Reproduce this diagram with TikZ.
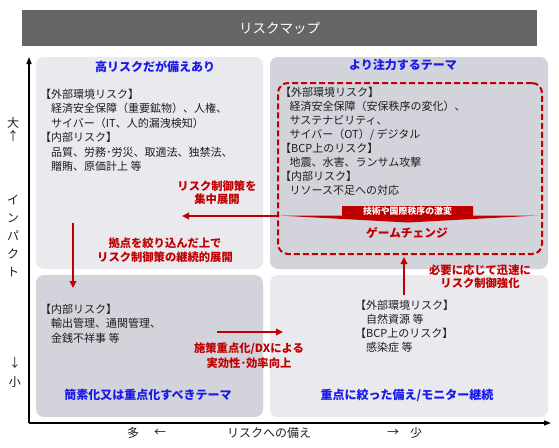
\documentclass[tikz,border=0pt]{standalone}
\usepackage{fontspec}
\setmainfont{Noto Sans CJK JP}
\usetikzlibrary{arrows.meta}
\definecolor{qlight}{RGB}{233,233,238}
\definecolor{qdark}{RGB}{211,211,219}
\definecolor{titlegray}{RGB}{102,102,102}
\definecolor{hblue}{RGB}{25,25,235}
\definecolor{dred}{RGB}{192,0,0}
\definecolor{txt}{RGB}{30,30,30}
\begin{document}
\begin{tikzpicture}[x=1pt,y=-1pt,
  quad/.style={rounded corners=8pt, draw=none, inner sep=0pt},
  body/.style={anchor=base west, inner sep=0pt, text=txt, font=\fontsize{11}{12}\selectfont},
  head/.style={anchor=base, inner sep=0pt, text=hblue, font=\bfseries\fontsize{12}{14}\selectfont},
  redt/.style={anchor=base, inner sep=0pt, text=dred, font=\bfseries\fontsize{11.3}{13}\selectfont},
  axl/.style={inner sep=0pt, text=txt, font=\fontsize{12}{14}\selectfont},
  redarrow/.style={draw=dred, line width=2pt, -{Triangle[length=7pt,width=6.5pt]}},
  axisline/.style={draw=black, line width=1.3pt, -{Triangle[length=7pt,width=5pt]}},
]
\useasboundingbox (0,0) rectangle (559,447);
\fill[white] (0,0) rectangle (559,447);

% title
\node[fill=titlegray, minimum width=515pt, minimum height=36pt, inner sep=0pt,
      text=white, font=\fontsize{13.5}{15}\selectfont] (title) at (279.5,28) {リスクマップ};

% quadrants
\node[quad, fill=qlight, minimum width=227pt, minimum height=212pt] (tl) at (149.5,163) {};
\node[quad, fill=qdark,  minimum width=278pt, minimum height=212pt] (tr) at (409,163) {};
\node[quad, fill=qdark,  minimum width=227pt, minimum height=142pt] (bl) at (149.5,346) {};
\node[quad, fill=qlight, minimum width=278pt, minimum height=142pt] (br) at (409,346) {};

% dashed focus box
\node[draw=dred, line width=2pt, dash pattern=on 6pt off 3pt, rounded corners=10pt,
      minimum width=264pt, minimum height=171pt, inner sep=0pt] (gc) at (410,168.5) {};

% axes
\coordinate (origin) at (29,423);
\coordinate (ytop) at (29,57);
\coordinate (xend) at (551,423);
\draw[axisline] (origin) -- (ytop);
\draw[axisline] (origin) -- (xend);

% headers
\node[head] (tlh) at (155,71.6) {高リスクだが備えあり};
\node[head] (trh) at (403,69.6) {より注力するテーマ};
\node[head] (blh) at (148,399.6) {簡素化又は重点化すべきテーマ};
\node[head] (brh) at (407,399.6) {重点に絞った備え/モニター継続};

% TL body
\foreach \t [count=\i] in {{【外部環境リスク】},{\hspace{1em}経済安全保障（重要鉱物）、人権、},{\hspace{1em}サイバー（IT、人的漏洩検知）},{【内部リスク】},{\hspace{1em}品質、労務･労災、取適法、独禁法、},{\hspace{1em}贈賄、原価計上 等}}
  \node[body, name=tl\i] at (40,{98+14.5*(\i-1)}) {\t};

% TR body
\foreach \t [count=\i] in {{【外部環境リスク】},{\hspace{0.85em}経済安全保障（安保秩序の変化）、},{\hspace{0.85em}サステナビリティ、},{\hspace{0.85em}サイバー（OT）/ デジタル},{【BCP上のリスク】},{\hspace{0.85em}地震、水害、ランサム攻撃},{【内部リスク】},{\hspace{0.85em}リソース不足への対応}}
  \node[body, name=tr\i] at (280,{96+14*(\i-1)}) {\t};

% BL body
\foreach \t [count=\i] in {{【内部リスク】},{\hspace{1em}輸出管理、通関管理、},{\hspace{1em}金銭不祥事 等}}
  \node[body, name=bl\i] at (40,{313+14.5*(\i-1)}) {\t};

% BR body
\foreach \t [count=\i] in {{【外部環境リスク】},{\hspace{1em}自然資源 等},{【BCP上のリスク】},{\hspace{1em}感染症 等}}
  \node[body, name=br\i] at (355,{309+14*(\i-1)}) {\t};

% banner
\fill[dred] (278,215.5) -- (342,215.5) -- (342,206) -- (473,206) -- (473,215.5)
  -- (538,215.5) -- (408,222.5) -- cycle;
\node[inner sep=0pt, text=white, font=\bfseries\fontsize{8.9}{10}\selectfont] (bnr) at (407.5,211.5) {技術や国際秩序の激変};
\node[redt, font=\bfseries\fontsize{11.7}{13}\selectfont] (game) at (407,237.4) {ゲームチェンジ};

% red arrows
\coordinate (la1) at (278,216);
\coordinate (la2) at (182,216);
\draw[redarrow] (la1) -- (la2);
\coordinate (da1) at (73,223);
\coordinate (da2) at (73,288);
\draw[redarrow] (da1) -- (da2);
\coordinate (ra1) at (217,332);
\coordinate (ra2) at (283,332);
\draw[redarrow] (ra1) -- (ra2);
\coordinate (ua1) at (404,295);
\coordinate (ua2) at (404,257);
\draw[redarrow] (ua1) -- (ua2);

% red labels
\node[redt] (r1a) at (217,190.3) {リスク制御策を};
\node[redt] (r1b) at (217,203.3) {集中展開};
\node[redt] (r2a) at (165,247.3) {拠点を絞り込んだ上で};
\node[redt] (r2b) at (165,261.3) {リスク制御策の継続的展開};
\node[redt] (r3a) at (480,274.3) {必要に応じて迅速に};
\node[redt] (r3b) at (480,287.3) {リスク制御強化};
\node[redt] (r4a) at (249,352.3) {施策重点化/DXによる};
\node[redt] (r4b) at (249,367.3) {実効性･効率向上};

% axis labels
\node[axl] (big) at (13,123) {大};
\node[axl] (upar) at (13,136) {↑};
\foreach \c [count=\i] in {イ,ン,パ,ク,ト}
  \node[axl, name=yl\i] at (13,{200+18*(\i-1)}) {\c};
\node[axl] (dnar) at (15,363) {↓};
\node[axl] (small) at (15,382) {小};
\node[axl] (many) at (133,433) {多};
\node[axl] (lfar) at (160,433) {←};
\node[axl] (xlab) at (269,433) {リスクへの備え};
\node[axl] (rtar) at (393,433) {→};
\node[axl] (few) at (416,433) {少};
\end{tikzpicture}
\end{document}
